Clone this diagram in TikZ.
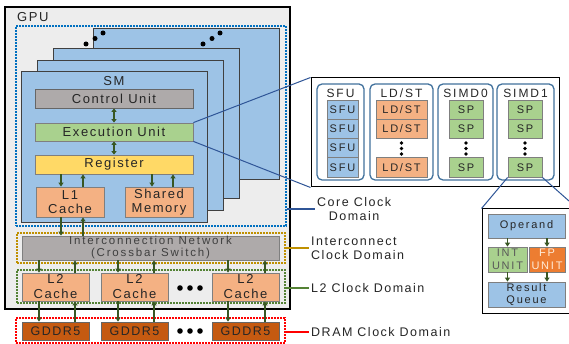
\documentclass[tikz,border=0pt]{standalone}
\usepackage{fontspec}
\setmainfont{Liberation Sans}[LetterSpace=12]
\newfontfamily\fwide{Liberation Sans}[LetterSpace=16]
\usetikzlibrary{arrows.meta}
\definecolor{gpubg}{HTML}{EDEDED}
\definecolor{smblue}{HTML}{9DC3E6}
\definecolor{cugray}{HTML}{AEAAAA}
\definecolor{eugreen}{HTML}{A9D18E}
\definecolor{regyel}{HTML}{FFD966}
\definecolor{cacheor}{HTML}{F4B183}
\definecolor{gddr}{HTML}{C55A11}
\definecolor{fpor}{HTML}{ED7D31}
\definecolor{arrgreen}{HTML}{385723}
\definecolor{coreblue}{HTML}{0070C0}
\definecolor{icgold}{HTML}{BF9000}
\definecolor{ltgreen}{HTML}{548235}
\definecolor{domred}{HTML}{FF0000}
\definecolor{grpblue}{HTML}{41719C}
\definecolor{zoomblue}{HTML}{2F5597}
\definecolor{txt}{HTML}{262626}
\definecolor{bord}{HTML}{7F7F7F}
\tikzset{
  bx/.style={draw=bord, line width=0.8pt, inner sep=0pt, align=center, text=txt},
  card/.style={draw=black!75, line width=1pt, fill=smblue},
  dotbox/.style={line width=1.6pt, dash pattern=on 1.6pt off 1.4pt},
  arr/.style={draw=arrgreen, line width=1.5pt, -{Triangle[width=5pt,length=4pt]}},
  darr/.style={draw=arrgreen, line width=1.6pt, {Triangle[width=5pt,length=3.5pt]}-{Triangle[width=5pt,length=3.5pt]}},
  grp/.style={draw=grpblue, line width=1.3pt, rounded corners=5pt, fill=white, inner sep=0pt},
  zoomln/.style={draw=zoomblue, line width=1pt},
  lab/.style={inner sep=2pt, text=txt, font=\fontsize{12.5}{14}\selectfont},
  f13/.style={font=\fontsize{13}{14}\selectfont},
  fhd/.style={font=\fwide\fontsize{12}{13}\selectfont},
  f11/.style={font=\fwide\fontsize{11}{12}\selectfont},
}
\begin{document}
\begin{tikzpicture}[x=1pt,y=-1pt]
\clip (0,0) rectangle (569,344);
\fill[white] (0,0) rectangle (569,344);
% GPU
\node[draw=black, line width=1.6pt, fill=gpubg, minimum width=285, minimum height=302, inner sep=0pt] (gpu) at (147.5,158) {};
\node[anchor=west, inner sep=0pt, text=txt, f13] (gputxt) at (17,17) {GPU};
\node[dotbox, draw=coreblue, minimum width=270, minimum height=200, inner sep=0pt] (core) at (151,126) {};
% SM cards
\node[card, minimum width=186, minimum height=151, inner sep=0pt] (sm4) at (186,104.5) {};
\node[card, minimum width=186, minimum height=150, inner sep=0pt] (sm3) at (146,124) {};
\node[card, minimum width=186, minimum height=150, inner sep=0pt] (sm2) at (130,136) {};
\node[card, minimum width=186, minimum height=151, inner sep=0pt] (sm1) at (114,147.5) {};
\fill (86,44) circle (2.5pt) (95,38.5) circle (2.5pt) (103,33) circle (2.5pt);
\fill (203,44) circle (2.5pt) (212,38.5) circle (2.5pt) (220,33) circle (2.5pt);
\node[f13, text=txt, inner sep=0pt] (smlab) at (114,81) {SM};
\node[bx, f13, fill=cugray, draw=black!60, minimum width=158, minimum height=19] (cu) at (114,98.5) {Control Unit};
\node[bx, f13, fill=eugreen, minimum width=158, minimum height=18] (eu) at (114,132) {Execution Unit};
\node[bx, f13, fill=regyel, minimum width=158, minimum height=19] (reg) at (114,164.5) {Register};
\node[bx, f13, fill=cacheor, minimum width=68, minimum height=30] (l1) at (70,202) {L1\\Cache};
\node[bx, f13, fill=cacheor, minimum width=68, minimum height=30] (shm) at (159,202) {Shared\\Memory};
\draw[darr, line width=2.2pt] (cu.south) -- (eu.north);
\draw[darr] (eu.south) -- (reg.north);
\draw[arr] (reg.south -| 61,0) -- (l1.north -| 61,0);
\draw[arr] (l1.north -| 83,0) -- (reg.south -| 83,0);
\draw[arr] (reg.south -| 152,0) -- (shm.north -| 152,0);
\draw[arr] (shm.north -| 173,0) -- (reg.south -| 173,0);
% interconnect
\node[dotbox, draw=icgold, minimum width=268, minimum height=30, inner sep=0pt] (icdom) at (151,248) {};
\node[bx, fill=cugray, text=black!75, font=\fwide\fontsize{11.5}{12}\selectfont, minimum width=257, minimum height=24] (ic) at (150.5,248) {Interconnection Network\\(Crossbar Switch)};
\draw[arr] (l1.south -| 61,0) -- (ic.north -| 61,0);
\draw[arr] (ic.north -| 83,0) -- (l1.south -| 83,0);
% L2
\node[dotbox, draw=ltgreen, minimum width=268, minimum height=33, inner sep=0pt] (l2dom) at (151,286.5) {};
\node[bx, font=\fontsize{13}{15}\selectfont, fill=cacheor, minimum width=67, minimum height=28] (l2a) at (55.5,287) {L2\\Cache};
\node[bx, font=\fontsize{13}{15}\selectfont, fill=cacheor, minimum width=67, minimum height=28] (l2b) at (134.5,287) {L2\\Cache};
\node[bx, font=\fontsize{13}{15}\selectfont, fill=cacheor, minimum width=67, minimum height=28] (l2c) at (245.5,287) {L2\\Cache};
\fill (180,288) circle (2.8pt) (190,288) circle (2.8pt) (200,288) circle (2.8pt);
% DRAM
\node[dotbox, draw=domred, minimum width=269, minimum height=25, inner sep=0pt] (dramdom) at (150.5,330.5) {};
\node[bx, font=\fontsize{12.5}{13}\selectfont, fill=gddr, text=black!85, draw=black!60, minimum width=67, minimum height=18] (g1) at (55.5,331) {GDDR5};
\node[bx, font=\fontsize{12.5}{13}\selectfont, fill=gddr, text=black!85, draw=black!60, minimum width=67, minimum height=18] (g2) at (134.5,331) {GDDR5};
\node[bx, font=\fontsize{12.5}{13}\selectfont, fill=gddr, text=black!85, draw=black!60, minimum width=67, minimum height=18] (g3) at (245.5,331) {GDDR5};
\fill (180,331) circle (2.8pt) (190,331) circle (2.8pt) (200,331) circle (2.8pt);
\foreach \n/\d/\u in {a/39/75, b/118/154, c/228/265}{
  \draw[arr] (ic.south -| \d,0) -- (l2\n.north -| \d,0);
  \draw[arr] (l2\n.north -| \u,0) -- (ic.south -| \u,0);
}
\foreach \n/\m/\d/\u in {a/1/39/75, b/2/118/154, c/3/228/265}{
  \draw[arr] (l2\n.south -| \d,0) -- (g\m.north -| \d,0);
  \draw[arr] (g\m.north -| \u,0) -- (l2\n.south -| \u,0);
}
% detail box
\node[draw=black, line width=1pt, fill=white, minimum width=248, minimum height=109, inner sep=0pt] (det) at (435,132.5) {};
\draw[zoomln] (eu.north east) -- (det.north west);
\draw[zoomln] (eu.south east) -- (det.south west);
\node[grp, minimum width=47, minimum height=96] (gsfu) at (340.5,132) {};
\node[grp, minimum width=63, minimum height=96] (gld) at (401.5,132) {};
\node[grp, minimum width=55, minimum height=96] (gs0) at (465.5,132) {};
\node[grp, minimum width=57, minimum height=96] (gs1) at (525.5,132) {};
\node[fhd, text=txt, inner sep=0pt] (hsfu) at (340.5,93.5) {SFU};
\node[fhd, text=txt, inner sep=0pt] (hld) at (401.5,93.5) {LD/ST};
\node[fhd, text=txt, inner sep=0pt] (hs0) at (465.5,93.5) {SIMD0};
\node[fhd, text=txt, inner sep=0pt] (hs1) at (525.5,93.5) {SIMD1};
\foreach \i/\y in {1/109.6, 2/128.9, 3/148.1, 4/167.4}{
  \node[bx, f11, fill=smblue, minimum width=31, minimum height=19.3] (sfu\i) at (342.5,\y) {SFU};
}
\foreach \i/\y in {1/109.6, 2/128.9, 4/167.4}{
  \node[bx, f11, fill=cacheor, minimum width=51, minimum height=19.3] (ld\i) at (401.5,\y) {LD/ST};
  \node[bx, f11, fill=eugreen, minimum width=34, minimum height=19.3] (spa\i) at (466,\y) {SP};
  \node[bx, f11, fill=eugreen, minimum width=34, minimum height=19.3] (spb\i) at (525,\y) {SP};
}
\foreach \x in {401.5, 466, 525}{
  \fill (\x,143) circle (1.9pt) (\x,148.5) circle (1.9pt) (\x,154) circle (1.9pt);
}
% SP detail
\node[draw=black, line width=1pt, fill=white, minimum width=95, minimum height=104, inner sep=0pt] (small) at (529.5,261) {};
\draw[zoomln] (spb4.south west) -- (small.north west);
\draw[zoomln] (spb4.south east) -- (small.north east);
\node[bx, f11, fill=smblue, minimum width=77, minimum height=24] (op) at (526.5,226) {Operand};
\node[bx, f11, fill=eugreen, text=black!65, minimum width=39, minimum height=25, font=\fwide\fontsize{11}{12.5}\selectfont] (int) at (507.5,259.5) {INT\\UNIT};
\node[bx, f11, fill=fpor, text=orange!15, minimum width=36, minimum height=25, font=\fwide\fontsize{11}{12.5}\selectfont] (fp) at (547,259.5) {FP\\UNIT};
\node[bx, fill=smblue, minimum width=77, minimum height=25, font=\fwide\fontsize{11}{12.5}\selectfont] (rq) at (526.5,294.5) {Result\\Queue};
\draw[arr, line width=1.1pt] (op.south -| int.north) -- (int.north);
\draw[arr, line width=1.1pt] (op.south -| fp.north) -- (fp.north);
\draw[arr, line width=1.1pt] (int.south) -- (rq.north -| int.south);
\draw[arr, line width=1.1pt] (fp.south) -- (rq.north -| fp.south);
% clock domain labels
\node[lab, anchor=west, align=center] (corelab) at (315,209) {Core Clock\\Domain};
\draw[draw=zoomblue, line width=1.3pt] (core.east |- corelab.west) -- (corelab.west);
\node[lab, anchor=west, align=left] (iclab) at (309,248) {Interconnect\\Clock Domain};
\draw[draw=icgold, line width=1.3pt] (icdom.east |- iclab.west) -- (iclab.west);
\node[lab, anchor=west] (l2lab) at (309,288) {L2 Clock Domain};
\draw[draw=ltgreen, line width=1.3pt] (l2dom.east |- l2lab.west) -- (l2lab.west);
\node[lab, anchor=west] (dramlab) at (309,332) {DRAM Clock Domain};
\draw[draw=domred, line width=1.3pt] (dramdom.east |- dramlab.west) -- (dramlab.west);
\end{tikzpicture}
\end{document}
